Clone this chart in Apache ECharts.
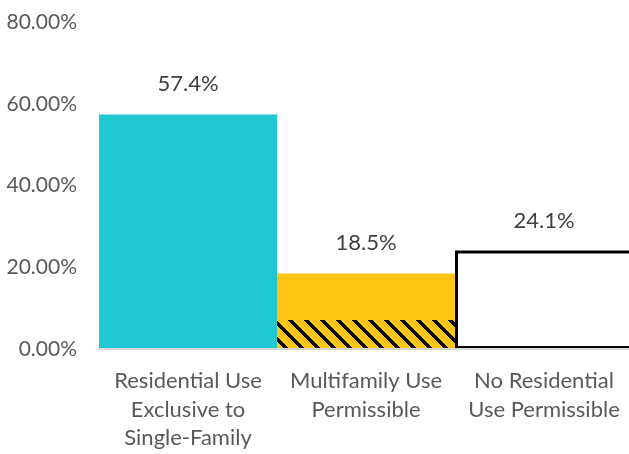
<!DOCTYPE html>
<html>
<head>
<meta charset="utf-8">
<script src="https://cdn.jsdelivr.net/npm/echarts@6/dist/echarts.min.js"></script>
<style>html,body{margin:0;padding:0;background:#fff;overflow:hidden}#c{width:633px;height:454px}</style>
</head>
<body>
<div id="c"></div>
<script>
var categories = ['Residential Use\nExclusive to\nSingle-Family', 'Multifamily Use\nPermissible', 'No Residential\nUse Permissible'];
var totals = [0.574, 0.185, 0.241];
var hatched = ['-', 0.071, '-'];
var yTicks = [0, 0.2, 0.4, 0.6, 0.8];

var FONT = 'Lato';

var pc = document.createElement('canvas');
pc.width = 16; pc.height = 16;
var pctx = pc.getContext('2d');
pctx.fillStyle = '#fec514';
pctx.fillRect(0, 0, 16, 16);
pctx.fillStyle = '#000';
for (var y = 0; y < 16; y++) {
  for (var x = 0; x < 16; x++) {
    var d = ((x - y) % 16 + 16) % 16;
    if (d < 5) pctx.fillRect(x, y, 1, 1);
  }
}

var chart = echarts.init(document.getElementById('c'), null, {renderer: 'canvas'});
chart.setOption({
  animation: false,
  grid: {left: 99, top: 22, bottom: 105, right: 0, containLabel: false},
  xAxis: {
    type: 'category',
    data: categories,
    z: 5,
    axisLine: {show: true, lineStyle: {color: '#d9d9d9', width: 2}},
    axisTick: {show: false},
    axisLabel: {interval: 0, margin: 18, color: '#595959', fontFamily: FONT, fontSize: 22, lineHeight: 28.5}
  },
  yAxis: {
    type: 'value',
    min: yTicks[0],
    max: yTicks[yTicks.length - 1],
    interval: yTicks[1] - yTicks[0],
    splitLine: {show: false},
    axisLine: {show: false},
    axisTick: {show: false},
    axisLabel: {margin: 22, color: '#595959', fontFamily: FONT, fontSize: 21,
      formatter: function (v) { return (v * 100).toFixed(2) + '%'; }}
  },
  series: [
    {
      type: 'bar',
      barCategoryGap: 0,
      barGap: '-100%',
      data: totals.map(function (v, i) {
        var styles = [
          {color: '#1fc9d4'},
          {color: '#fec514'},
          {color: '#ffffff', borderColor: '#000000', borderWidth: 3}
        ];
        return {value: v, itemStyle: styles[i]};
      }),
      label: {show: true, position: 'top', distance: 19, color: '#404040', fontFamily: FONT, fontSize: 22,
        formatter: function (p) { return (p.value * 100).toFixed(1) + '%'; }}
    },
    {
      type: 'bar',
      barCategoryGap: 0,
      barGap: '-100%',
      data: hatched,
      itemStyle: {color: {image: pc, repeat: 'repeat'}}
    }
  ]
});
</script>
</body>
</html>
